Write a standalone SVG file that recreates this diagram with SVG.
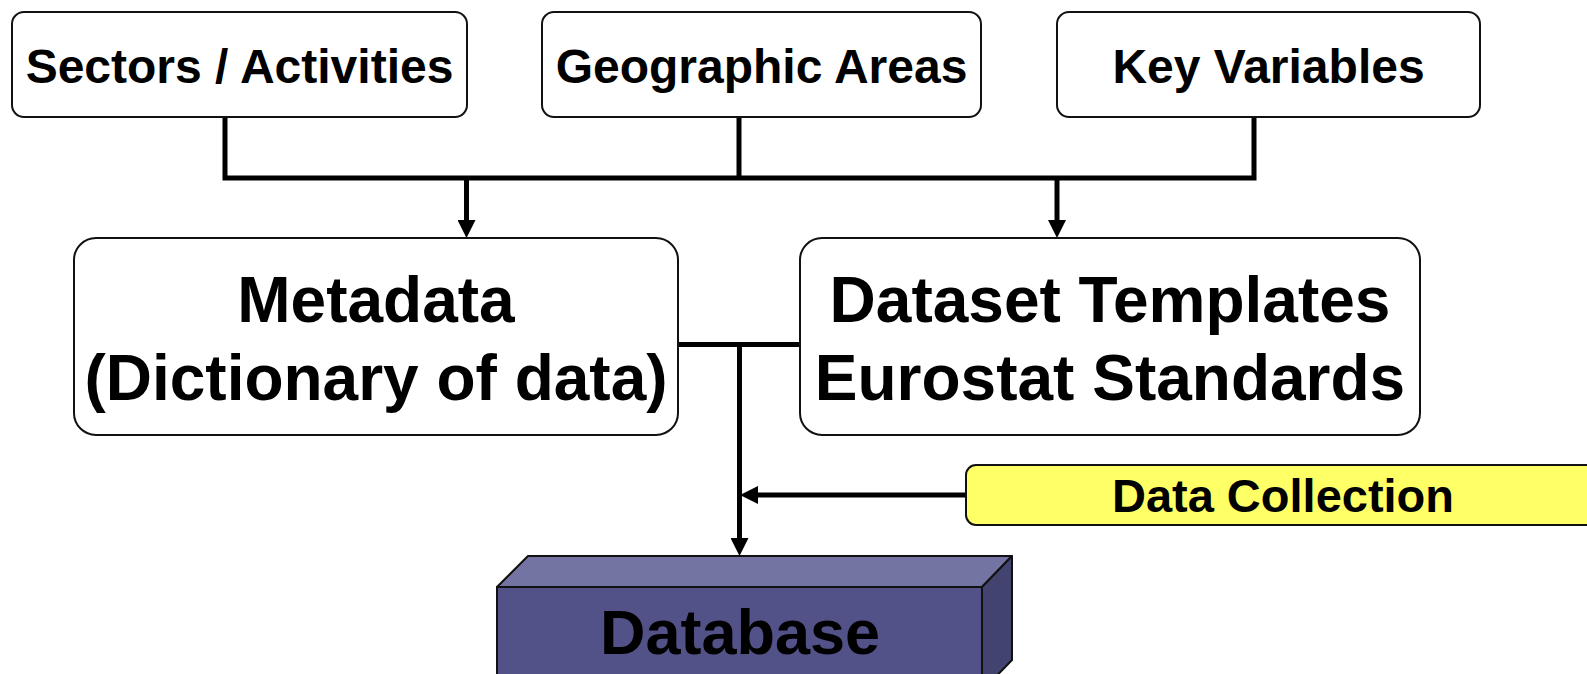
<svg xmlns="http://www.w3.org/2000/svg" width="1587" height="674" viewBox="0 0 1587 674">
  <style>
    .box { fill: #ffffff; stroke: #111111; stroke-width: 2; }
    .t { font-family: "Liberation Sans", Arial, sans-serif; font-weight: bold; fill: #000000; text-anchor: middle; }
    .t1 { font-size: 48px; }
    .t2 { font-size: 64px; }
    .conn { fill: none; stroke: #000000; stroke-width: 5; stroke-linejoin: miter; stroke-linecap: butt; }
  </style>
  <defs>
    <marker id="arrow" markerUnits="userSpaceOnUse" markerWidth="18" markerHeight="18" viewBox="0 0 18 18" refX="0" refY="9" orient="auto">
      <path d="M0,0 L18,9 L0,18 z" fill="#000000"/>
    </marker>
  </defs>
  <rect width="1587" height="674" fill="#ffffff"/>

  <g id="connectors">
    <path class="conn" d="M225,117 V178 H1254 V117"/>
    <path class="conn" d="M739,117 V178"/>
    <path class="conn" d="M466.5,178 V220" marker-end="url(#arrow)"/>
    <path class="conn" d="M1057,178 V220" marker-end="url(#arrow)"/>
    <path class="conn" d="M678,344.5 H800"/>
    <path class="conn" d="M739.5,344.5 V538" marker-end="url(#arrow)"/>
    <path class="conn" d="M966,495 H758" marker-end="url(#arrow)"/>
  </g>

  <g id="sectors">
    <rect class="box" x="12" y="12" width="455" height="105" rx="12"/>
    <text class="t t1" x="239.5" y="83">Sectors / Activities</text>
  </g>
  <g id="geographic">
    <rect class="box" x="542" y="12" width="439" height="105" rx="12"/>
    <text class="t t1" x="761.5" y="83">Geographic Areas</text>
  </g>
  <g id="keyvariables">
    <rect class="box" x="1057" y="12" width="423" height="105" rx="12"/>
    <text class="t t1" x="1268.5" y="83">Key Variables</text>
  </g>
  <g id="metadata">
    <rect class="box" x="74" y="238" width="604" height="197" rx="22"/>
    <text class="t t2" x="376" y="322">Metadata</text>
    <text class="t t2" x="376" y="400">(Dictionary of data)</text>
  </g>
  <g id="templates">
    <rect class="box" x="800" y="238" width="620" height="197" rx="22"/>
    <text class="t t2" x="1110" y="322">Dataset Templates</text>
    <text class="t t2" x="1110" y="400">Eurostat Standards</text>
  </g>
  <g id="datacollection">
    <rect x="966" y="465" width="650" height="60" rx="10" fill="#ffff66" stroke="#111111" stroke-width="2"/>
    <text class="t" x="1283" y="512" font-size="47">Data Collection</text>
  </g>
  <g id="database">
    <polygon points="497,587 528,556 1012,556 982,587" fill="#7474a2" stroke="#111111" stroke-width="2" stroke-linejoin="round"/>
    <polygon points="982,587 1012,556 1012,660 982,691" fill="#434370" stroke="#111111" stroke-width="2" stroke-linejoin="round"/>
    <rect x="497" y="587" width="485" height="110" fill="#525288" stroke="#111111" stroke-width="2"/>
    <text class="t" x="740" y="654" font-size="63">Database</text>
  </g>
</svg>
